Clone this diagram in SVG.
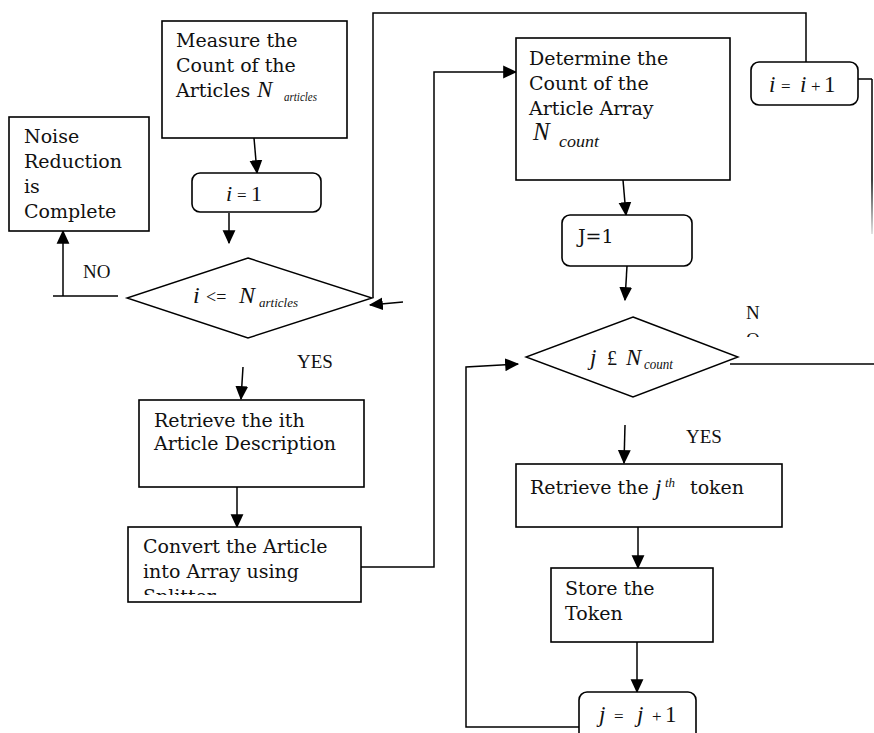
<svg xmlns="http://www.w3.org/2000/svg" width="874" height="733" viewBox="0 0 874 733">
  <style>
    .box { fill: #fff; stroke: #000; stroke-width: 1.6; }
    .dia { fill: #fff; stroke: #000; stroke-width: 1.4; }
    .lbl { font-family: "DejaVu Serif", "Liberation Serif", serif; font-size: 19px; fill: #111; }
    .math { font-family: "Liberation Serif", "Times New Roman", serif; fill: #111; }
    .it { font-style: italic; }
    .yn { font-family: "Liberation Serif", "Times New Roman", serif; font-size: 19px; fill: #111; }
    .wire { fill: none; stroke: #000; stroke-width: 1.5; }
    .arrow { fill: none; stroke: #000; stroke-width: 1.5; marker-end: url(#head); }
  </style>
  <defs>
    <marker id="head" markerUnits="userSpaceOnUse" markerWidth="14" markerHeight="14" viewBox="0 0 12 12" refX="11" refY="6" orient="auto">
      <path d="M0,0.5 L12,6 L0,11.5 z" fill="#000"/>
    </marker>
    <linearGradient id="fade" gradientUnits="userSpaceOnUse" x1="0" y1="180" x2="0" y2="234">
      <stop offset="0" stop-color="#000"/>
      <stop offset="1" stop-color="#000" stop-opacity="0.15"/>
    </linearGradient>
    <clipPath id="clipConvert"><rect x="128" y="527" width="233" height="68"/></clipPath>
    <clipPath id="clipNo"><rect x="735" y="300" width="40" height="37"/></clipPath>
  </defs>
  <rect width="874" height="733" fill="#fff"/>

  <!-- connectors -->
  <g id="connectors">
    <path class="arrow" d="M254,138 L257,173"/>
    <path class="arrow" d="M229,213 L229,243"/>
    <path class="wire" d="M53,296 H118"/>
    <path class="arrow" d="M63,296 V231"/>
    <path class="arrow" d="M243,367 L241,399"/>
    <path class="arrow" d="M237,487 V527"/>
    <path class="arrow" d="M361,567 H434 V72 H516"/>
    <path class="arrow" d="M623,180 L626,215"/>
    <path class="arrow" d="M627,266 L625,300"/>
    <path class="wire" d="M806,62 V13 H373 V298"/>
    <path class="arrow" d="M403,302 L370,305"/>
    <path class="wire" d="M730,364 H874"/>
    <path class="wire" d="M858,79 H872"/>
    <path d="M872,79 V234" fill="none" stroke="url(#fade)" stroke-width="1.5"/>
    <path class="arrow" d="M625,425 L624,463"/>
    <path class="arrow" d="M638,527 V568"/>
    <path class="arrow" d="M637,642 V692"/>
    <path class="arrow" d="M579,727 H466 V367 L518,364"/>
  </g>

  <!-- start: count articles -->
  <g id="measure">
    <rect class="box" x="162" y="21" width="185" height="117"/>
    <text class="lbl" x="176" y="47">Measure the</text>
    <text class="lbl" x="176" y="72">Count of the</text>
    <text class="lbl" x="176" y="97">Articles</text>
    <text class="math it" x="257" y="97" font-size="23">N</text>
    <text class="math it" x="284" y="101" font-size="12.5" textLength="33" lengthAdjust="spacingAndGlyphs">articles</text>
  </g>

  <g id="noise-done">
    <rect class="box" x="9" y="117" width="140" height="114"/>
    <text class="lbl" x="24" y="143">Noise</text>
    <text class="lbl" x="24" y="168">Reduction</text>
    <text class="lbl" x="24" y="193">is</text>
    <text class="lbl" x="24" y="218">Complete</text>
  </g>

  <g id="init-i">
    <rect class="box" x="192" y="173" width="129" height="39" rx="8"/>
    <text class="math" x="226" y="201" font-size="22"><tspan class="it">i</tspan><tspan x="237" font-size="17">=</tspan><tspan x="251">1</tspan></text>
  </g>

  <g id="test-i">
    <polygon class="dia" points="248,258 372,298 248,338 127,298"/>
    <text class="math" x="193" y="303" font-size="24"><tspan class="it">i</tspan><tspan x="206" font-size="18">&lt;=</tspan><tspan x="239" class="it">N</tspan></text>
    <text class="math it" x="259" y="307" font-size="13" textLength="39" lengthAdjust="spacingAndGlyphs">articles</text>
  </g>

  <text class="yn" x="83" y="278" font-size="20">NO</text>
  <text class="yn" x="297" y="368">YES</text>

  <g id="retrieve-article">
    <rect class="box" x="139" y="400" width="225" height="87"/>
    <text class="lbl" x="154" y="427">Retrieve the ith</text>
    <text class="lbl" x="154" y="450">Article Description</text>
  </g>

  <g id="convert">
    <rect class="box" x="128" y="527" width="233" height="75"/>
    <g clip-path="url(#clipConvert)">
      <text class="lbl" x="143" y="553">Convert the Article</text>
      <text class="lbl" x="143" y="578">into Array using</text>
      <text class="lbl" x="143" y="603">Splitter</text>
    </g>
  </g>

  <g id="determine">
    <rect class="box" x="516" y="38" width="214" height="142"/>
    <text class="lbl" x="529" y="65">Determine the</text>
    <text class="lbl" x="529" y="90">Count of the</text>
    <text class="lbl" x="529" y="115">Article Array</text>
    <text class="math it" x="533" y="140" font-size="25">N</text>
    <text class="math it" x="559" y="147" font-size="17" textLength="40" lengthAdjust="spacingAndGlyphs">count</text>
  </g>

  <g id="increment-i">
    <rect class="box" x="751" y="62" width="107" height="43" rx="8"/>
    <text class="math" y="92" font-size="23"><tspan class="it" x="769">i</tspan><tspan x="781" font-size="17">=</tspan><tspan class="it" x="800">i</tspan><tspan x="811" font-size="17">+</tspan><tspan x="824">1</tspan></text>
  </g>

  <g id="init-j">
    <rect class="box" x="562" y="215" width="130" height="51" rx="8"/>
    <text class="lbl" x="578" y="243" font-size="20">J=1</text>
  </g>

  <g id="test-j">
    <polygon class="dia" points="633,317 738,357 633,397 526,357"/>
    <text class="math" y="365" font-size="23"><tspan class="it" x="590">j</tspan><tspan x="607" font-size="20">£</tspan><tspan class="it" x="626">N</tspan></text>
    <text class="math it" x="644" y="369" font-size="14" textLength="29" lengthAdjust="spacingAndGlyphs">count</text>
  </g>

  <g clip-path="url(#clipNo)">
    <text class="yn" x="746" y="319" font-size="18">N</text>
    <text class="yn" x="746" y="346" font-size="18">O</text>
  </g>
  <text class="yn" x="686" y="443">YES</text>

  <g id="retrieve-token">
    <rect class="box" x="516" y="464" width="266" height="63"/>
    <text class="lbl" x="530" y="494">Retrieve the</text>
    <text class="math it" x="655" y="495" font-size="23">j</text>
    <text class="math it" x="665" y="487" font-size="13">th</text>
    <text class="lbl" x="690" y="494">token</text>
  </g>

  <g id="store">
    <rect class="box" x="551" y="568" width="162" height="74"/>
    <text class="lbl" x="565" y="595">Store the</text>
    <text class="lbl" x="565" y="620">Token</text>
  </g>

  <g id="increment-j">
    <rect class="box" x="579" y="692" width="117" height="60" rx="8"/>
    <text class="math" y="722" font-size="23"><tspan class="it" x="599">j</tspan><tspan x="614" font-size="17">=</tspan><tspan class="it" x="637">j</tspan><tspan x="652" font-size="17">+</tspan><tspan x="665">1</tspan></text>
  </g>
</svg>
